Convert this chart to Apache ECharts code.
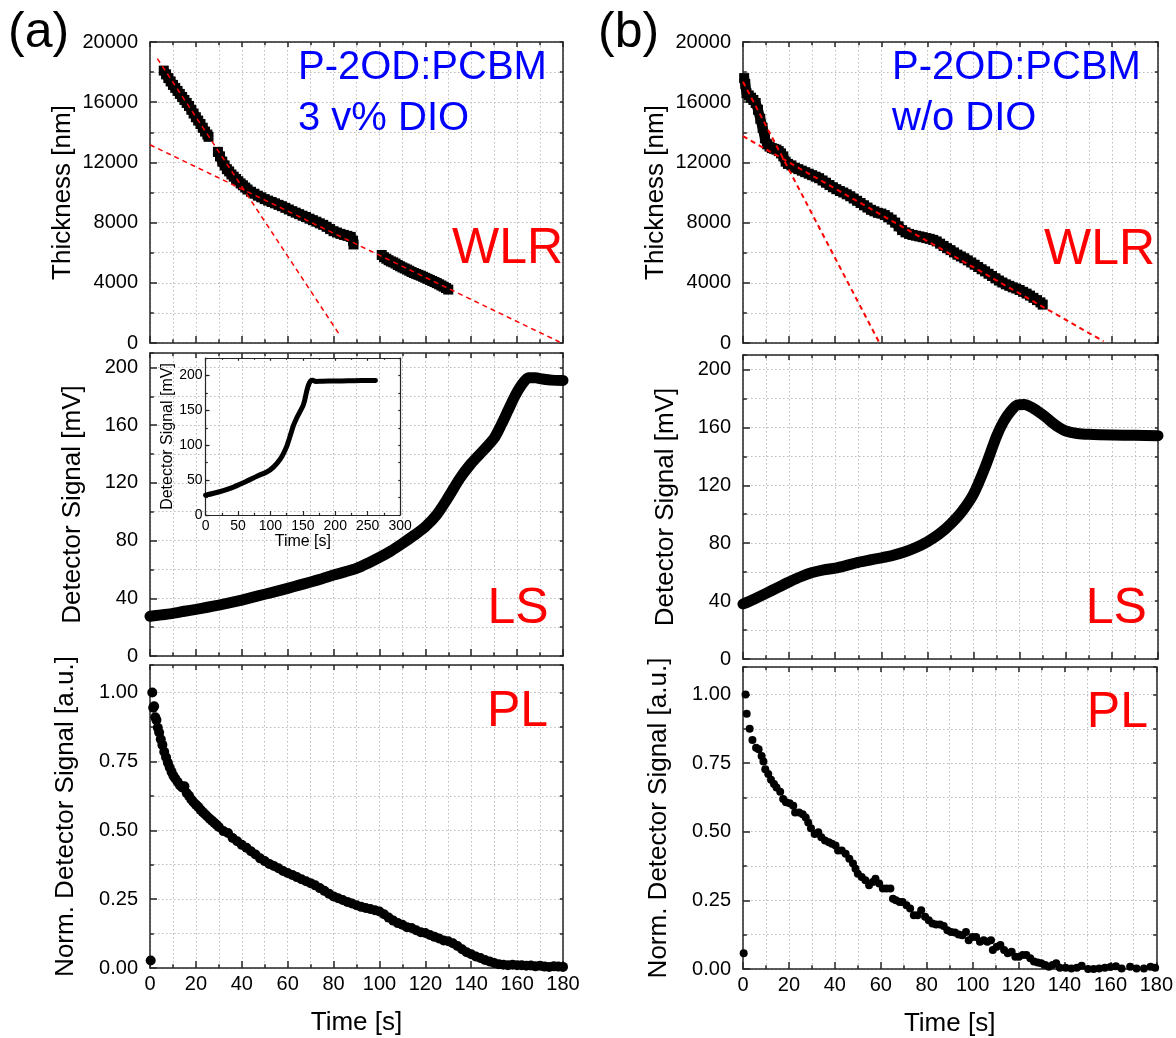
<!DOCTYPE html>
<html>
<head>
<meta charset="utf-8">
<title>WLR / LS / PL</title>
<script src="https://cdn.jsdelivr.net/npm/echarts@6/dist/echarts.min.js"></script>
<style>
  html, body { margin: 0; padding: 0; background: #fff; }
  #chart { width: 1176px; height: 1038px; }
</style>
</head>
<body>
<div id="chart"></div>
<script>
// ---- data: [time s, value] ----
// (a) P-2OD:PCBM 3 v% DIO
const wlrA1 = [[6.0,18100],[7,17850],[8,17600],[9,17380],[10,17150],[11,16950],[12,16750],[13,16550],[14,16350],[15,16150],[16,15950],[17,15750],[18,15500],[19,15250],[20,15000],[21,14780],[22,14550],[23,14300],[24,14050],[25,13850],[25.5,13700]];
const wlrA2 = [[29.6,12700],[30.5,12400],[31.5,12050],[32.5,11800],[33.5,11550],[34.5,11400],[35.5,11200],[36.5,11050],[37.5,10900],[38.5,10750],[39.5,10600],[40.5,10480],[41.5,10330],[42.5,10200],[44,10050],[45.5,9920],[47,9790],[48.5,9680],[50,9560],[51.5,9460],[53,9370],[54.5,9280],[56,9180],[57.5,9090],[59,8980],[60.5,8870],[62,8760],[63.5,8660],[65,8560],[66.5,8460],[68,8370],[69.5,8260],[71,8160],[72.5,8060],[74,7950],[75.5,7850],[77,7720],[78.5,7570],[80,7430],[81.5,7340],[83,7250],[84.5,7180],[86,7120],[87.5,7050],[88.5,6800],[88.7,6550]];
const wlrA3 = [[101,5850],[102,5700],[103,5600],[104,5500],[105,5420],[106,5360],[107,5280],[108,5180],[109,5100],[110,5020],[111,4950],[112,4880],[113,4800],[114,4720],[115,4650],[116,4590],[117,4530],[118,4470],[119,4400],[120,4330],[121,4260],[122,4190],[123,4120],[124,4050],[125,3980],[126,3900],[127,3820],[128,3740],[129,3650],[130,3550]];
const fitA1 = [[3.2,18900],[82.8,500]];
const fitA2 = [[0,13170],[178.5,66]];

const lsA = [[0,27.5],[5,28.5],[10,29.5],[15,31],[20,32.3],[25,33.8],[30,35.3],[35,37],[40,38.8],[45,40.8],[50,42.8],[55,44.8],[60,46.9],[65,49.1],[70,51.3],[75,53.6],[80,56.1],[85,58.3],[90,60.7],[95,64.3],[100,68.3],[105,72.8],[110,78],[115,83.5],[120,89.6],[125,98],[130,110],[135,123],[140,133.5],[145,142],[150,151],[153,160],[156,170],[159,180],[162,188],[165,192.8],[168,192.8],[171,192],[175,191.2],[180,191]];
const lsInset = [[0,28.5],[20,33],[40,39],[60,47],[80,56],[95,62],[105,69],[115,80],[120,88],[125,98],[130,112],[135,127],[140,138],[145,147],[150,156],[153,165],[156,178],[159,187],[162,192],[165,193],[170,191.5],[180,191.8],[200,192],[220,192.3],[240,192.6],[262,192.8]];

const plA = [[0.3,0.027],[1.0,1.0],[1.4,0.945],[1.8,0.95],[2.3,0.91],[2.8,0.9],[3.4,0.872],[4.0,0.855],[4.7,0.83],[5.4,0.81],[6.2,0.785],[7.0,0.765],[7.8,0.745],[8.6,0.728],[9.4,0.712],[10.2,0.698],[11,0.688],[12,0.676],[13,0.664],[14,0.655],[15,0.66],[16,0.635],[17,0.625],[18,0.612],[19,0.602],[20,0.593],[21,0.585],[22,0.575],[23,0.566],[24,0.558],[25,0.55],[26,0.542],[27,0.535],[28,0.527],[29,0.52],[30,0.512],[32,0.497],[34,0.49],[36,0.472],[38,0.46],[40,0.447],[42,0.437],[44,0.424],[46,0.412],[48,0.398],[50,0.388],[52,0.378],[54,0.37],[56,0.362],[58,0.352],[60,0.345],[62,0.338],[64,0.33],[66,0.322],[68,0.315],[70,0.308],[72,0.3],[74,0.29],[76,0.28],[78,0.27],[80,0.26],[82,0.253],[84,0.247],[86,0.24],[88,0.234],[90,0.228],[92,0.222],[94,0.218],[96,0.214],[98,0.21],[100,0.205],[102,0.195],[104,0.183],[106,0.172],[108,0.163],[110,0.157],[112,0.148],[114,0.145],[116,0.137],[118,0.13],[120,0.127],[122,0.12],[124,0.113],[126,0.107],[128,0.1],[130,0.097],[132,0.09],[134,0.08],[136,0.068],[138,0.057],[140,0.05],[142,0.042],[144,0.036],[146,0.029],[148,0.024],[150,0.018],[152,0.014],[154,0.012],[156,0.01],[158,0.012],[160,0.01],[162,0.01],[164,0.008],[166,0.009],[168,0.006],[170,0.008],[172,0.005],[174,0.004],[176,0.006],[178,0.005],[180,0.004]];

// (b) P-2OD:PCBM w/o DIO
const wlrB = [[0.5,17600],[1,17200],[1.5,16600],[2.5,16450],[3.5,16300],[4.5,16150],[5.5,15950],[6.5,15500],[7.5,14900],[8.5,14300],[9.5,13600],[10.5,13200],[11.5,13050],[12.5,12950],[13.5,12900],[14.5,12850],[15.5,12750],[16.5,12600],[17.5,12400],[18.5,12050],[19.5,11900],[21,11800],[22.5,11650],[24,11550],[25.5,11450],[27,11350],[28.5,11250],[30,11150],[31.5,11050],[33,10950],[34.5,10800],[36,10650],[37.5,10500],[39,10350],[40.5,10220],[42,10100],[43.5,10000],[45,9880],[46.5,9750],[48,9600],[49.5,9450],[51,9300],[52.5,9150],[54,9000],[55.5,8850],[57,8750],[58.5,8650],[60,8600],[61.5,8500],[63,8350],[64.5,8200],[66,8000],[67.5,7750],[69,7500],[70.5,7350],[72,7250],[73.5,7180],[75,7130],[76.5,7080],[78,7030],[79.5,6970],[81,6920],[82.5,6850],[84,6750],[85.5,6600],[87,6450],[88.5,6300],[90,6170],[91.5,6020],[93,5870],[94.5,5750],[96,5630],[97.5,5490],[99,5350],[100.5,5200],[102,5050],[103.5,4900],[105,4760],[106.5,4600],[108,4450],[109.5,4300],[111,4150],[112.5,4020],[114,3900],[115.5,3800],[117,3700],[118.5,3620],[120,3520],[121.5,3400],[123,3280],[124.5,3150],[126,3000],[127.5,2850],[129,2700],[130,2550]];
const fitB1 = [[0,17360],[59.2,0]];
const fitB2 = [[0,13740],[156.4,110]];

const lsB = [[0,38],[5,41.5],[10,45.3],[15,49.3],[20,53.2],[25,56.8],[30,59.7],[35,61.6],[40,62.8],[45,64.7],[50,66.8],[55,68.4],[60,69.9],[65,71.6],[70,73.9],[75,77],[80,81],[85,86.2],[90,93.2],[95,102],[100,114],[105,132.5],[110,154],[113,164],[116,171],[119,175.5],[122,175.8],[125,174],[128,171],[131,167.5],[134,163.5],[137,160],[140,157.5],[145,155.8],[150,155.2],[160,154.7],[170,154.5],[180,154.3]];

const plB = [[0.3,0.057],[1.1,1.0],[1.6,0.93],[2.9,0.875],[4.1,0.834],[5.7,0.806],[6.8,0.8],[8.1,0.776],[8.9,0.756],[9.7,0.728],[11,0.71],[12.2,0.689],[13.5,0.674],[14.6,0.661],[16.2,0.646],[17.5,0.619],[18.7,0.607],[20.3,0.604],[21.9,0.595],[22.7,0.57],[24.4,0.57],[26,0.564],[27.3,0.552],[28.4,0.534],[29.6,0.513],[31.2,0.492],[32.8,0.498],[34.1,0.48],[35.7,0.468],[37.4,0.462],[38.7,0.456],[40.3,0.45],[41.4,0.432],[43,0.432],[44.7,0.42],[46.3,0.402],[47.9,0.384],[49,0.365],[50,0.347],[51.7,0.335],[53.3,0.323],[54.9,0.305],[56.5,0.317],[57.7,0.329],[59.3,0.311],[60.9,0.293],[62.5,0.293],[64.2,0.293],[65.3,0.256],[66.6,0.25],[68.2,0.244],[69.5,0.244],[71.2,0.232],[72.8,0.22],[74.4,0.196],[76,0.196],[77.6,0.214],[79.3,0.19],[80.9,0.178],[82.5,0.166],[84.1,0.162],[85.8,0.162],[87.4,0.157],[89,0.141],[90.6,0.135],[92.3,0.133],[93.9,0.126],[95.5,0.123],[97.1,0.135],[98.3,0.105],[99.9,0.117],[101.5,0.117],[103.2,0.099],[104.8,0.105],[106.4,0.099],[108,0.105],[108.8,0.069],[110.5,0.081],[112.1,0.087],[113.7,0.069],[115.3,0.057],[117,0.063],[118.6,0.045],[120.2,0.045],[121.8,0.051],[123.4,0.051],[125.1,0.039],[126.7,0.027],[128.3,0.024],[129.9,0.021],[131.6,0.015],[133.2,0.008],[134.8,0.015],[136.4,0.021],[138,0.005],[140.5,0.005],[143,0.002],[145.4,0.005],[147.5,0.012],[150.3,0],[152.7,0],[155.1,0.002],[157.6,0.005],[160,0.007],[162.4,0.01],[164.9,0.002],[168.6,0.008],[171.4,0.002],[174.6,0.002],[177.5,0.008],[179.5,0.005]];

// ---- styling ----
const FONT = '"Liberation Sans", Arial, Helvetica, sans-serif';
const INK = '#262626';
const GRID_LINE = { color: '#bdbdbd', width: 1, type: [1.5, 2.5] };

const grids = [];
const xAxes = [];
const yAxes = [];
const series = [];

// one boxed panel: bottom/top x axes, left (labels + minor grid) and right y axes
function addPanel(p) {
  const g = grids.length;
  grids.push({ left: p.left, top: p.top, width: p.width, height: p.height });
  const xi = xAxes.length;
  const yi = yAxes.length;
  const line = { color: INK, width: p.lineW };
  const textStyle = { color: '#000', fontFamily: FONT, fontSize: p.nameFont };

  xAxes.push({
    gridIndex: g, type: 'value', position: 'bottom',
    min: p.xMin, max: p.xMax, interval: p.xStep,
    axisLine: { onZero: false, lineStyle: line },
    axisTick: { inside: true, length: p.tick, lineStyle: line },
    minorTick: { show: true, splitNumber: 2, length: p.tick * 0.55, lineStyle: line },
    splitLine: { show: p.gridLines, lineStyle: GRID_LINE },
    minorSplitLine: { show: p.gridLines, lineStyle: GRID_LINE },
    axisLabel: { show: p.xLabels, color: '#000', fontFamily: FONT, fontSize: p.font, margin: p.xMargin },
    name: p.xLabels ? 'Time [s]' : '', nameLocation: 'middle', nameGap: p.xNameGap, nameTextStyle: textStyle
  });
  xAxes.push({
    gridIndex: g, type: 'value', position: 'top',
    min: p.xMin, max: p.xMax, interval: p.xStep,
    axisLine: { onZero: false, lineStyle: line },
    axisTick: { inside: true, length: p.tick * 0.7, lineStyle: line },
    minorTick: { show: true, splitNumber: 2, length: p.tick * 0.45, lineStyle: line },
    splitLine: { show: false },
    axisLabel: { show: false }
  });

  yAxes.push({
    gridIndex: g, type: 'value', position: 'left',
    min: p.yMin, max: p.yMax, interval: p.yStep,
    axisLine: { onZero: false, lineStyle: line },
    axisTick: { inside: true, length: p.tick, lineStyle: line },
    splitLine: { show: false },
    axisLabel: {
      color: '#000', fontFamily: FONT, fontSize: p.font, margin: p.yMargin,
      showMaxLabel: p.showMaxY, formatter: p.yFormat || (v => String(v))
    },
    name: p.yName, nameLocation: 'middle', nameGap: p.yNameGap, nameTextStyle: textStyle
  });
  yAxes.push({
    gridIndex: g, type: 'value', position: 'left',
    min: p.yMin, max: p.yMax, interval: p.yStep / 2,
    axisLine: { show: false },
    axisTick: { inside: true, length: p.tick * 0.55, lineStyle: line },
    splitLine: { show: p.gridLines, lineStyle: GRID_LINE },
    axisLabel: { show: false }
  });
  yAxes.push({
    gridIndex: g, type: 'value', position: 'right',
    min: p.yMin, max: p.yMax, interval: p.yStep / 2,
    axisLine: { onZero: false, lineStyle: line },
    axisTick: { inside: true, length: p.tick * 0.45, lineStyle: line },
    splitLine: { show: false },
    axisLabel: { show: false }
  });
  return { xAxisIndex: xi, yAxisIndex: yi };
}

const colA = { left: 150, width: 413 };
const colB = { left: 743, width: 415 };
const base = {
  xMin: 0, xMax: 180, xStep: 20, yMin: 0, gridLines: true, lineW: 1.5, tick: 7,
  font: 20, nameFont: 26, xMargin: 6, yMargin: 12, xNameGap: 42, xLabels: false
};
const wlrAxis = { yMax: 20000, yStep: 4000, showMaxY: true, yName: 'Thickness [nm]', yNameGap: 74 };
const lsAxis = { yMax: 210, yStep: 40, showMaxY: false, yName: 'Detector Signal [mV]', yNameGap: 64 };
const plAxis = {
  yMax: 1.1, yStep: 0.25, showMaxY: false, yName: 'Norm. Detector Signal [a.u.]', yNameGap: 71,
  yFormat: v => v.toFixed(2), xLabels: true
};

const pWA = addPanel(Object.assign({}, base, colA, wlrAxis, { top: 42, height: 301 }));
const pLA = addPanel(Object.assign({}, base, colA, lsAxis, { top: 353, height: 303 }));
const pPA = addPanel(Object.assign({}, base, colA, plAxis, { top: 665, height: 303 }));
const pWB = addPanel(Object.assign({}, base, colB, wlrAxis, { top: 42, height: 301 }));
const pLB = addPanel(Object.assign({}, base, colB, lsAxis, { top: 355, height: 304 }));
const pPB = addPanel(Object.assign({}, base, colB, plAxis, { top: 667, height: 304 }));
const pIn = addPanel({
  left: 205.6, top: 358, width: 194.5, height: 157,
  xMin: 0, xMax: 300, xStep: 50, yMin: 0, yMax: 225, yStep: 50, showMaxY: false,
  gridLines: false, lineW: 1.2, tick: 4, font: 14, nameFont: 16,
  xMargin: 4, yMargin: 3, xLabels: true, xNameGap: 19,
  yName: 'Detector Signal [mV]', yNameGap: 29
});

function wlrSeries(axes, data, size) {
  return Object.assign({
    type: 'line', data: data, symbol: 'rect', symbolSize: size, showSymbol: true,
    itemStyle: { color: '#000', opacity: 1 }, lineStyle: { color: '#000', width: size }, z: 2
  }, axes);
}
function fitSeries(axes, data, width) {
  return Object.assign({
    type: 'line', data: data, symbol: 'none',
    lineStyle: { color: '#ff0000', width: width, type: [5, 4] }, z: 5
  }, axes);
}
function bandSeries(axes, data, width) {
  return Object.assign({
    type: 'line', data: data, symbol: 'none', smooth: 0.25,
    lineStyle: { color: '#000', width: width, cap: 'round', join: 'round' }, z: 2
  }, axes);
}
function dotSeries(axes, data, size) {
  return Object.assign({
    type: 'scatter', data: data, symbol: 'circle', symbolSize: size,
    itemStyle: { color: '#000', opacity: 1 }, z: 2
  }, axes);
}

series.push(
  wlrSeries(pWA, wlrA1, 10), wlrSeries(pWA, wlrA2, 10), wlrSeries(pWA, wlrA3, 10),
  fitSeries(pWA, fitA1, 1.5), fitSeries(pWA, fitA2, 1.5),
  bandSeries(pLA, lsA, 11),
  dotSeries(pPA, plA, 10),
  wlrSeries(pWB, wlrB, 10),
  fitSeries(pWB, fitB1, 2), fitSeries(pWB, fitB2, 2),
  bandSeries(pLB, lsB, 11),
  dotSeries(pPB, plB, 8),
  bandSeries(pIn, lsInset, 5)
);

function label(text, x, y, size, color) {
  return {
    type: 'text', x: x, y: y, z: 10,
    style: { text: text, fill: color, font: size + 'px ' + FONT, align: 'left', verticalAlign: 'middle' }
  };
}

const chart = echarts.init(document.getElementById('chart'), null, { renderer: 'canvas' });
chart.setOption({
  backgroundColor: '#fff',
  animation: false,
  grid: grids,
  xAxis: xAxes,
  yAxis: yAxes,
  series: series,
  graphic: [
    label('(a)', 8, 33.5, 50, '#000'),
    label('(b)', 598, 33.5, 50, '#000'),
    label('P-2OD:PCBM', 298, 67.8, 40, '#0000ff'),
    label('3 v% DIO', 298, 119.1, 40, '#0000ff'),
    label('P-2OD:PCBM', 892, 67.8, 40, '#0000ff'),
    label('w/o DIO', 892, 119.1, 40, '#0000ff'),
    label('WLR', 452, 249.4, 50, '#ff0000'),
    label('WLR', 1044, 250.7, 50, '#ff0000'),
    label('LS', 487.4, 609.4, 50, '#ff0000'),
    label('LS', 1085.8, 609.4, 50, '#ff0000'),
    label('PL', 487, 712.7, 50, '#ff0000'),
    label('PL', 1086.8, 713.4, 50, '#ff0000')
  ]
});
</script>
</body>
</html>
